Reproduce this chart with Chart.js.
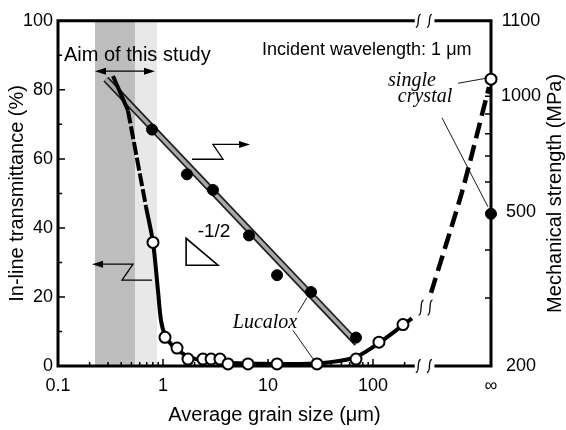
<!DOCTYPE html>
<html>
<head>
<meta charset="utf-8">
<script src="https://cdn.jsdelivr.net/npm/chart.js@4.4.1/dist/chart.umd.min.js"></script>
<style>
  body { margin: 0; background: #fff; }
</style>
</head>
<body>
<canvas id="chart" width="566" height="430"></canvas>
<script>
// in-line transmittance (%) vs grain size (um), open circles
const grainT = [0.803, 1.045, 1.36, 1.73, 2.40, 2.87, 3.49, 4.16, 6.45, 12.2, 29.3, 68.9, 114, 193];
const transT = [35.8, 8.3, 5.2, 2.0, 2.0, 2.0, 2.0, 0.6, 0.6, 0.6, 0.6, 2.0, 6.9, 12.0];

// mechanical strength (MPa), filled circles
const grainS = [0.786, 1.69, 2.99, 6.59, 12.2, 25.7, 68.9];
const strength = [820, 628, 572, 436, 344, 311, 237];

// single crystal, drawn at "infinite" grain size
const X_INF = 1330;
const singleT = 83.1;
const singleS = 496;

// hand drawn trend of the transmittance
const fitTopX = [0.334, 0.464];
const fitTopY = [84.0, 74.0];
const fitDashX = [0.464, 0.689];
const fitDashY = [74.0, 46.1];
const fitMainX = [0.689, 0.803, 0.896, 0.957, 1.045, 1.22, 1.62, 2.25, 4.35, 20.2, 38.9, 68.9, 117, 235];
const fitMainY = [46.1, 35.8, 21.8, 13.2, 8.9, 6.0, 3.2, 1.7, 0.9, 0.6, 1.1, 2.6, 6.9, 13.8];
const fitEndX = [357, 704, 1273];
const fitEndY = [21.2, 50.4, 80.8];

// strength trend (slope -1/2 band)
const hpX = [0.286, 70.4];
const hpS = [1108, 229];

// axes
const xTickVals = [0.1, 1, 10, 100, X_INF];
const xTickText = ['0.1', '1', '10', '100', '\u221E'];
const xMinor = [0.2, 0.3, 0.4, 0.5, 0.6, 0.7, 0.8, 0.9, 2, 3, 4, 5, 6, 7, 8, 9, 20, 30, 40, 50, 60, 70, 80, 90, 200];
const R_MAX = 1570;
const rTickVals = [200, 300, 400, 500, 600, 700, 800, 900, 1000, R_MAX];
const rTickText = ['200', '', '', '500', '', '', '', '', '1000', '1100'];
const aimBand = [0.225, 0.541, 0.877];
const xBreak = [250, 385];

Chart.defaults.font.family = "'Liberation Sans', Arial, sans-serif";
Chart.defaults.color = '#000';

const pts = (xs, ys) => xs.map((v, i) => ({ x: v, y: ys[i] }));

function squiggle(ctx, cx, cy, h) {
  ctx.beginPath();
  ctx.moveTo(cx + 2.5, cy - h / 2);
  ctx.bezierCurveTo(cx - 2, cy - h / 2, cx + 2, cy + h / 2, cx - 2.5, cy + h / 2);
  ctx.stroke();
}

function arrowHead(ctx, x0, y0, x1, y1, len, half) {
  const a = Math.atan2(y1 - y0, x1 - x0);
  ctx.beginPath();
  ctx.moveTo(x1, y1);
  ctx.lineTo(x1 - len * Math.cos(a) + half * Math.sin(a), y1 - len * Math.sin(a) - half * Math.cos(a));
  ctx.lineTo(x1 - len * Math.cos(a) - half * Math.sin(a), y1 - len * Math.sin(a) + half * Math.cos(a));
  ctx.closePath();
  ctx.fill();
}

// band, frame and ticks under the data; notes on top
const decor = {
  id: 'decor',
  beforeDatasetsDraw(chart) {
    const { ctx, chartArea: a, scales: { x, y, y2 } } = chart;
    const X = v => x.getPixelForValue(v);
    ctx.save();
    ctx.fillStyle = '#bdbdbd';
    ctx.fillRect(X(aimBand[0]), a.top, X(aimBand[1]) - X(aimBand[0]), a.bottom - a.top);
    ctx.fillStyle = '#e8e8e8';
    ctx.fillRect(X(aimBand[1]), a.top, X(aimBand[2]) - X(aimBand[1]), a.bottom - a.top);

    ctx.strokeStyle = '#000';
    ctx.lineWidth = 3;
    ctx.lineJoin = 'miter';
    const g0 = X(xBreak[0]), g1 = X(xBreak[1]);
    ctx.beginPath();
    ctx.moveTo(g0, a.top); ctx.lineTo(a.left, a.top); ctx.lineTo(a.left, a.bottom); ctx.lineTo(g0, a.bottom);
    ctx.moveTo(g1, a.top); ctx.lineTo(a.right, a.top); ctx.lineTo(a.right, a.bottom); ctx.lineTo(g1, a.bottom);
    ctx.stroke();

    ctx.lineWidth = 1.5;
    ctx.beginPath();
    [1, 10, 100].forEach(v => { ctx.moveTo(X(v), a.bottom); ctx.lineTo(X(v), a.bottom - 7); });
    xMinor.forEach(v => { ctx.moveTo(X(v), a.bottom); ctx.lineTo(X(v), a.bottom - 4); });
    for (let v = 10; v < 100; v += 10) {
      const len = v % 20 === 0 ? 7 : 4;
      ctx.moveTo(a.left, y.getPixelForValue(v)); ctx.lineTo(a.left + len, y.getPixelForValue(v));
    }
    rTickVals.slice(0, -1).forEach(v => {
      ctx.moveTo(a.right, y2.getPixelForValue(v)); ctx.lineTo(a.right - 6, y2.getPixelForValue(v));
    });
    ctx.stroke();

    ctx.lineWidth = 1.3;
    [270, 345].forEach(v => {
      squiggle(ctx, X(v), a.top, 13);
      squiggle(ctx, X(v), a.bottom, 13);
    });
    ctx.restore();
  },
  afterDatasetsDraw(chart) {
    const { ctx, scales: { x, y } } = chart;
    const P = (xv, yv) => [x.getPixelForValue(xv), y.getPixelForValue(yv)];
    ctx.save();
    ctx.fillStyle = '#000';
    ctx.strokeStyle = '#000';

    // break on the curve
    ctx.lineWidth = 1.3;
    [287, 349].forEach(v => { const p = P(v, 16.9); squiggle(ctx, p[0], p[1], 15); });

    // texts
    ctx.textBaseline = 'middle';
    ctx.textAlign = 'left';
    ctx.font = "20px 'Liberation Sans', Arial, sans-serif";
    let p = P(0.114, 90.0);
    ctx.fillText('Aim of this study', p[0], p[1]);
    ctx.font = "18px 'Liberation Sans', Arial, sans-serif";
    p = P(8.77, 91.4);
    ctx.fillText('Incident wavelength: 1 \u03BCm', p[0], p[1]);
    ctx.font = "19px 'Liberation Sans', Arial, sans-serif";
    ctx.textAlign = 'center';
    p = P(3.06, 39.0);
    ctx.fillText('-1/2', p[0], p[1]);
    ctx.font = "italic 20px 'Liberation Serif', 'Times New Roman', serif";
    p = P(235, 82.5); ctx.fillText('single', p[0], p[1]);
    p = P(313, 77.9); ctx.fillText('crystal', p[0], p[1]);
    p = P(9.36, 12.6); ctx.fillText('Lucalox', p[0], p[1]);

    // thin leaders
    ctx.lineWidth = 0.9;
    const seg = (a, b) => { ctx.beginPath(); ctx.moveTo(a[0], a[1]); ctx.lineTo(b[0], b[1]); ctx.stroke(); };
    seg(P(645, 81.9), P(1218, 83.4));
    seg(P(454, 71.9), P(1245, 46.1));
    seg(P(19.3, 15.5), P(23.5, 19.8));
    seg(P(17.3, 10.3), P(27.4, 1.7));

    // aim arrow
    ctx.lineWidth = 1.3;
    const l = P(0.225, 85.4), r = P(0.839, 85.4);
    seg([l[0] + 8, l[1]], [r[0] - 8, r[1]]);
    arrowHead(ctx, r[0], r[1], l[0], l[1], 11, 3.5);
    arrowHead(ctx, l[0], l[1], r[0], r[1], 11, 3.5);

    // axis pointers
    const z1 = [P(0.786, 24.9), P(0.407, 24.9), P(0.518, 29.5), P(0.211, 29.5)];
    ctx.beginPath();
    ctx.moveTo(z1[0][0], z1[0][1]); ctx.lineTo(z1[1][0], z1[1][1]); ctx.lineTo(z1[2][0], z1[2][1]); ctx.lineTo(z1[3][0] + 8, z1[3][1]);
    ctx.stroke();
    arrowHead(ctx, z1[2][0], z1[2][1], z1[3][0], z1[3][1], 11, 3.5);
    const z2 = [P(1.89, 59.9), P(3.73, 59.9), P(2.99, 64.2), P(6.74, 64.2)];
    ctx.beginPath();
    ctx.moveTo(z2[0][0], z2[0][1]); ctx.lineTo(z2[1][0], z2[1][1]); ctx.lineTo(z2[2][0], z2[2][1]); ctx.lineTo(z2[3][0] - 8, z2[3][1]);
    ctx.stroke();
    arrowHead(ctx, z2[2][0], z2[2][1], z2[3][0], z2[3][1], 11, 3.5);

    // slope triangle
    const t = [P(1.66, 37.0), P(1.66, 29.2), P(3.34, 29.2)];
    ctx.beginPath();
    ctx.moveTo(t[0][0], t[0][1]); ctx.lineTo(t[1][0], t[1][1]); ctx.lineTo(t[2][0], t[2][1]); ctx.closePath();
    ctx.fillStyle = '#fff'; ctx.fill();
    ctx.lineWidth = 1.6; ctx.stroke();

    // right axis title, reading upward
    ctx.fillStyle = '#000';
    ctx.font = "20px 'Liberation Sans', Arial, sans-serif";
    ctx.translate(555, (chart.chartArea.top + chart.chartArea.bottom) / 2);
    ctx.rotate(-Math.PI / 2);
    ctx.textAlign = 'center';
    ctx.fillText('Mechanical strength (MPa)', 0, 0);
    ctx.restore();
  }
};

new Chart(document.getElementById('chart'), {
  type: 'scatter',
  data: {
    datasets: [{
      label: 'Transmittance',
      data: pts(grainT, transT).concat([{ x: X_INF, y: singleT }]),
      yAxisID: 'y',
      pointRadius: 5.5,
      pointBorderWidth: 2,
      pointBackgroundColor: '#fff',
      pointBorderColor: '#000',
      clip: false,
      order: 1
    }, {
      label: 'Strength',
      data: pts(grainS, strength).concat([{ x: X_INF, y: singleS }]),
      yAxisID: 'y2',
      pointRadius: 5.5,
      pointBackgroundColor: '#000',
      pointBorderColor: '#000',
      clip: false,
      order: 3
    }, {
      label: 'fit top',
      data: pts(fitTopX, fitTopY),
      yAxisID: 'y', showLine: true, pointRadius: 0,
      borderColor: '#000', borderWidth: 4,
      clip: false, order: 2
    }, {
      label: 'fit dashed',
      data: pts(fitDashX, fitDashY),
      yAxisID: 'y', showLine: true, pointRadius: 0,
      borderColor: '#000', borderWidth: 4, borderDash: [13, 3],
      clip: false, order: 2
    }, {
      label: 'fit main',
      data: pts(fitMainX, fitMainY),
      yAxisID: 'y', showLine: true, pointRadius: 0,
      borderColor: '#000', borderWidth: 4, tension: 0.3,
      clip: false, order: 2
    }, {
      label: 'fit end',
      data: pts(fitEndX, fitEndY),
      yAxisID: 'y', showLine: true, pointRadius: 0,
      borderColor: '#000', borderWidth: 4.5, borderDash: [16, 7], tension: 0.2,
      clip: false, order: 2
    }, {
      label: 'band inner',
      data: pts(hpX, hpS),
      yAxisID: 'y2', showLine: true, pointRadius: 0,
      borderColor: '#a8a8a8', borderWidth: 3.5,
      clip: false, order: 4
    }, {
      label: 'band outer',
      data: pts(hpX, hpS),
      yAxisID: 'y2', showLine: true, pointRadius: 0,
      borderColor: '#1e1e1e', borderWidth: 7,
      clip: false, order: 5
    }]
  },
  options: {
    responsive: false,
    animation: false,
    layout: { padding: { top: 17, left: 0, right: 0, bottom: 0 } },
    plugins: { legend: { display: false }, tooltip: { enabled: false } },
    scales: {
      x: {
        type: 'logarithmic',
        bounds: 'data',
        min: 0.1,
        max: X_INF,
        afterBuildTicks: s => { s.ticks = xTickVals.map(v => ({ value: v })); },
        afterFit: s => { s.height = 64; },
        grid: { display: false, drawTicks: false },
        border: { display: false },
        ticks: {
          autoSkip: false, maxRotation: 0, padding: 9,
          font: { size: 18 },
          callback: (v, i) => xTickText[i]
        },
        title: { display: true, text: 'Average grain size (\u03BCm)', font: { size: 20 }, padding: { top: 0, bottom: 3 } }
      },
      y: {
        type: 'linear',
        position: 'left',
        min: 0, max: 100,
        afterFit: s => { s.width = 58; },
        grid: { display: false, drawTicks: false },
        border: { display: false },
        ticks: { stepSize: 20, padding: 5, font: { size: 18 } },
        title: { display: true, text: 'In-line transmittance (%)', font: { size: 20 }, padding: { top: 5, bottom: 0 } }
      },
      y2: {
        type: 'logarithmic',
        position: 'right',
        bounds: 'data',
        min: 200, max: R_MAX,
        afterBuildTicks: s => { s.ticks = rTickVals.map(v => ({ value: v })); },
        afterFit: s => { s.width = 75; },
        grid: { display: false, drawTicks: false },
        border: { display: false },
        ticks: {
          autoSkip: false, padding: 10, crossAlign: 'center',
          font: { size: 18 },
          callback: (v, i) => rTickText[i]
        }
      }
    }
  },
  plugins: [decor]
});
</script>
</body>
</html>
